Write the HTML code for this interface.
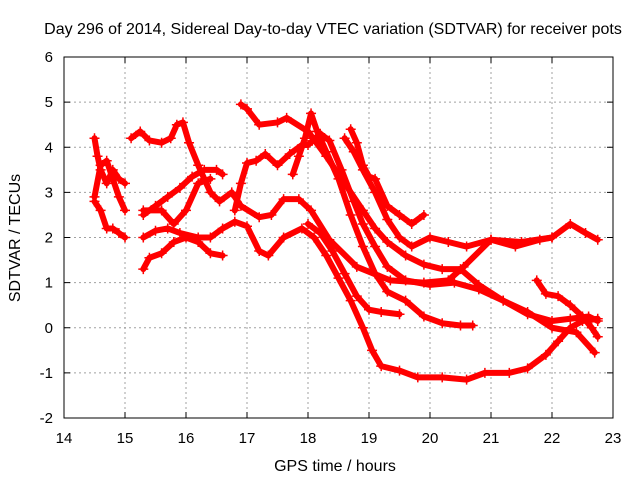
<!DOCTYPE html>
<html><head><meta charset="utf-8"><style>
body{margin:0;background:#fff}
svg{display:block;font-family:"Liberation Sans",sans-serif}
</style></head><body>
<svg id="c" width="640" height="480">
<text x="333" y="34" text-anchor="middle" font-size="16">Day 296 of 2014, Sidereal Day-to-day VTEC variation (SDTVAR) for receiver pots</text>
<text x="335" y="471" text-anchor="middle" font-size="16">GPS time / hours</text>
<text transform="translate(20,238) rotate(-90)" text-anchor="middle" font-size="16">SDTVAR / TECUs</text>
<g id="grid"></g><g id="series"></g><g id="axes"></g>
</svg>
<script>
const xTicks=[14,15,16,17,18,19,20,21,22,23];
const yTicks=[-2,-1,0,1,2,3,4,5,6];
const s1=[[14.5,4.2],[14.55,3.8],[14.6,3.5],[14.7,3.2],[14.8,3.5],[14.9,3.3],[15.0,3.2]];
const s2=[[14.5,2.9],[14.6,3.6],[14.7,3.7],[14.8,3.3],[14.9,2.9],[15.0,2.6]];
const s3=[[14.5,2.8],[14.6,2.6],[14.7,2.2],[14.8,2.2],[14.9,2.1],[15.0,2.0]];
const s4=[[15.1,4.2],[15.25,4.35],[15.4,4.15],[15.6,4.1],[15.75,4.2],[15.85,4.5],[15.95,4.55],[16.05,4.1],[16.2,3.6],[16.3,3.3],[16.4,3.0],[16.55,2.8],[16.75,3.0],[16.9,2.7],[17.2,2.45],[17.4,2.5],[17.6,2.85],[17.85,2.85],[18.05,2.6],[18.35,1.95],[18.8,1.35],[19.35,1.05],[19.9,1.0],[20.3,1.05],[20.55,1.35],[21.0,1.95],[21.5,1.9],[22.0,2.0],[22.3,2.3],[22.55,2.1],[22.75,1.95]];
const s5=[[16.9,4.95],[17.0,4.85],[17.2,4.5],[17.5,4.55],[17.65,4.65],[18.0,4.35],[18.3,3.8],[18.6,3.2],[18.9,2.6],[19.1,2.2],[19.3,1.9],[19.6,1.6],[19.9,1.4],[20.2,1.3],[20.5,1.3],[20.8,0.95],[21.2,0.6],[21.6,0.3],[22.0,0.15],[22.3,0.2],[22.6,0.25],[22.75,0.15]];
const s6=[[16.8,2.6],[16.9,3.2],[17.0,3.65],[17.15,3.7],[17.3,3.85],[17.5,3.6],[17.7,3.85],[17.9,4.05],[18.0,4.05],[18.2,4.3],[18.35,4.15],[18.55,3.5],[18.75,2.8],[18.9,2.3],[19.1,1.8],[19.3,1.35],[19.6,1.05],[20.0,0.95],[20.4,1.0],[20.8,0.85],[21.2,0.6],[21.6,0.35],[22.0,0.0],[22.4,-0.1],[22.7,-0.55]];
const s7=[[15.3,2.0],[15.5,2.15],[15.7,2.2],[15.9,2.1],[16.2,2.0],[16.4,2.0],[16.6,2.2],[16.8,2.35],[17.0,2.25],[17.2,1.7],[17.35,1.6],[17.6,2.0],[17.9,2.2],[18.1,2.0],[18.3,1.6],[18.5,1.1],[18.7,0.6],[18.9,0.0],[19.05,-0.5],[19.2,-0.85],[19.5,-0.95],[19.8,-1.1],[20.2,-1.1],[20.6,-1.15],[20.9,-1.0],[21.3,-1.0],[21.6,-0.9],[21.9,-0.6],[22.1,-0.3],[22.3,0.0],[22.5,0.15],[22.75,0.2]];
const s8=[[15.3,1.3],[15.4,1.55],[15.6,1.65],[15.8,1.9],[16.0,2.0],[16.2,1.9],[16.4,1.65],[16.6,1.6]];
const s9=[[15.3,2.5],[15.5,2.7],[15.7,2.9],[15.9,3.1],[16.1,3.35],[16.3,3.5],[16.5,3.5],[16.6,3.4]];
const s10=[[15.3,2.6],[15.6,2.6],[15.8,2.3],[16.0,2.6],[16.2,3.2],[16.4,3.3]];
const s11=[[18.7,4.4],[18.8,4.1],[18.9,3.6],[19.0,3.35],[19.1,3.3],[19.3,2.7],[19.5,2.5],[19.7,2.3],[19.9,2.5]];
const s12=[[18.6,4.2],[18.75,3.9],[18.9,3.5],[19.1,3.0],[19.3,2.4],[19.5,2.0],[19.7,1.8],[20.0,2.0],[20.3,1.9],[20.6,1.8],[21.0,1.95],[21.4,1.8],[21.8,1.95],[22.0,2.0]];
const s13=[[17.75,3.4],[17.85,3.8],[17.95,4.2],[18.05,4.75],[18.15,4.35],[18.3,3.9],[18.5,3.3],[18.7,2.5],[18.9,1.8],[19.1,1.2],[19.3,0.8],[19.6,0.6],[19.9,0.25],[20.2,0.1],[20.5,0.05],[20.7,0.05]];
const s14=[[18.0,2.3],[18.2,2.1],[18.4,1.7],[18.6,1.2],[18.8,0.7],[19.0,0.4],[19.2,0.35],[19.5,0.3]];
const s15=[[21.75,1.05],[21.9,0.75],[22.1,0.7],[22.3,0.5],[22.5,0.25],[22.65,0.0],[22.75,-0.2]];
const allSeries=[s1,s2,s3,s4,s5,s6,s7,s8,s9,s10,s11,s12,s13,s14,s15];
const X0=64,X1=613,Y0=418,Y1=57;
const xs=t=>X0+(t-14)/(23-14)*(X1-X0);
const ys=v=>Y0-(v+2)/8*(Y0-Y1);
const NS="http://www.w3.org/2000/svg";
const mk=(tag,at,par)=>{const e=document.createElementNS(NS,tag);for(const k in at)e.setAttribute(k,at[k]);par.appendChild(e);return e;};
const grid=document.getElementById('grid'),axes=document.getElementById('axes'),ser=document.getElementById('series');
xTicks.forEach(t=>{
 if(t>14&&t<23){const g=mk('line',{x1:xs(t),x2:xs(t),y1:Y1,y2:Y0,stroke:'#a0a0a0','stroke-dasharray':'2,3'},grid);
 
 }
 mk('line',{x1:xs(t),x2:xs(t),y1:Y0,y2:Y0-6,stroke:'#000'},axes);
 mk('line',{x1:xs(t),x2:xs(t),y1:Y1,y2:Y1+6,stroke:'#000'},axes);
 const l=mk('text',{x:xs(t),y:Y0+25,'text-anchor':'middle','font-size':15},axes);l.textContent=t;
 
 
});
yTicks.forEach(v=>{
 if(v>-2&&v<6){const g=mk('line',{x1:X0,x2:X1,y1:ys(v),y2:ys(v),stroke:'#a0a0a0','stroke-dasharray':'2,3'},grid);
 
 }
 mk('line',{x1:X0,x2:X0+6,y1:ys(v),y2:ys(v),stroke:'#000'},axes);
 mk('line',{x1:X1,x2:X1-6,y1:ys(v),y2:ys(v),stroke:'#000'},axes);
 const l=mk('text',{x:X0-11,y:ys(v)+5,'text-anchor':'end','font-size':15},axes);l.textContent=v;
 
 
});
const fr=mk('rect',{x:X0,y:Y1,width:X1-X0,height:Y0-Y1,fill:'none',stroke:'#000'},axes);


allSeries.forEach((s,i)=>{
 const g=mk('g',{},ser);
 
 
 mk('polyline',{points:s.map(p=>xs(p[0])+','+ys(p[1])).join(' '),fill:'none',stroke:'#f00','stroke-width':6,'stroke-linejoin':'round','stroke-linecap':'round'},g);
 s.forEach(p=>{const x=xs(p[0]),y=ys(p[1]);
  mk('path',{d:`M${x-5},${y}h10M${x},${y-5}v10`,stroke:'#f00','stroke-width':1.5},g);});
});
</script>
</body></html>
